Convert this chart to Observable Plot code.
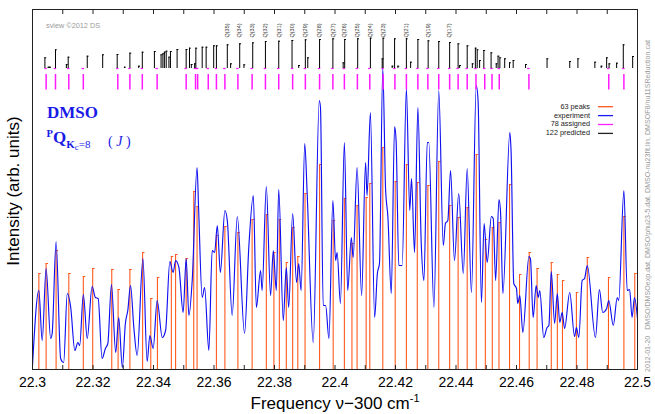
<!DOCTYPE html>
<html><head><meta charset="utf-8">
<script src="https://cdn.jsdelivr.net/npm/d3@7"></script>
<script src="https://cdn.jsdelivr.net/npm/@observablehq/plot@0.6"></script>
<style>body{margin:0;background:#fff}#chart{width:655px;height:414px}</style>
</head><body><div id="chart"></div>
<script>
// ---------- data ----------
const expFreq = [22.3000,22.3021,22.3032,22.3045,22.3060,22.3065,22.3078,22.3093,22.3103,22.3115,22.3126,22.3140,22.3150,22.3156,22.3168,22.3181,22.3197,22.3208,22.3217,22.3230,22.3241,22.3249,22.3261,22.3275,22.3285,22.3297,22.3307,22.3315,22.3324,22.3335,22.3346,22.3365,22.3379,22.3388,22.3399,22.3412,22.3429,22.3440,22.3454,22.3465,22.3473,22.3484,22.3498,22.3508,22.3517,22.3528,22.3544,22.3549,22.3561,22.3569,22.3583,22.3594,22.3602,22.3611,22.3621,22.3636,22.3644,22.3660,22.3677,22.3701,22.3715,22.3730,22.3740,22.3754,22.3759,22.3773,22.3787,22.3796,22.3806,22.3814,22.3829,22.3839,22.3847,22.3860,22.3873,22.3880,22.3888,22.3900,22.3908,22.3928,22.3948,22.3952,22.3961,22.3969,22.3980,22.3993,22.4002,22.4007,22.4018,22.4031,22.4042,22.4054,22.4060,22.4073,22.4088,22.4101,22.4106,22.4117,22.4131,22.4140,22.4147,22.4158,22.4167,22.4175,22.4186,22.4197,22.4202,22.4211,22.4222,22.4236,22.4247,22.4253,22.4263,22.4274,22.4285,22.4294,22.4305,22.4310,22.4327,22.4343,22.4358,22.4365,22.4373,22.4382,22.4395,22.4409,22.4424,22.4437,22.4451,22.4467,22.4473,22.4484,22.4493,22.4503,22.4517,22.4523,22.4531,22.4542,22.4547,22.4555,22.4578,22.4582,22.4591,22.4600,22.4604,22.4611,22.4621,22.4641,22.4646,22.4655,22.4665,22.4672,22.4677,22.4690,22.4701,22.4707,22.4715,22.4726,22.4735,22.4743,22.4751,22.4759,22.4776,22.4792,22.4798,22.4806,22.4817,22.4825,22.4834,22.4861,22.4874,22.4885,22.4898,22.4905,22.4920,22.4933,22.4938,22.4955,22.4966,22.4974,22.4982,22.4990,22.5000];
const expInt = [4,79,29,101,31,36,128,11,7,76,63,19,27,24,75,31,83,72,71,11,21,26,85,17,52,2,46,59,84,42,14,111,8,34,21,69,32,39,108,97,109,102,57,111,54,89,202,162,72,82,19,119,117,144,97,159,149,54,153,36,122,174,62,99,79,183,74,119,79,180,49,102,62,156,87,106,79,226,176,27,269,262,64,64,31,169,109,117,66,227,79,132,112,202,74,207,174,257,52,96,106,301,182,152,76,243,229,104,104,281,159,191,117,262,127,89,227,227,62,279,124,146,149,199,109,176,96,201,77,284,269,67,146,107,153,151,89,170,159,76,237,219,86,81,66,74,37,113,111,52,84,72,79,32,42,44,98,46,76,47,57,41,77,33,42,32,89,91,104,32,80,57,61,69,44,72,69,179,79,80,52,72,51];

const peakFreq = [22.3021,22.3045,22.3078,22.3120,22.3168,22.3199,22.3262,22.3283,22.3322,22.3364,22.3391,22.3413,22.3459,22.3473,22.3508,22.3533,22.3544,22.3608,22.3636,22.3679,22.3726,22.3773,22.3798,22.3816,22.3839,22.3860,22.3877,22.3901,22.3949,22.3994,22.4031,22.4056,22.4073,22.4103,22.4115,22.4158,22.4199,22.4236,22.4272,22.4307,22.4343,22.4379,22.4407,22.4437,22.4467,22.4497,22.4520,22.4542,22.4577,22.4610,22.4642,22.4668,22.4715,22.4735,22.4752,22.4798,22.4834,22.4904,22.4955,22.4991];
const peakInt = [96,106,119,96,93,101,100,80,100,117,71,92,113,115,111,178,163,134,143,137,150,155,117,150,107,142,113,176,205,149,171,126,164,172,186,222,188,205,187,184,208,164,152,162,215,130,142,147,185,95,117,101,107,95,89,77,112,92,153,96];

const predFreq = [22.3041,22.3052,22.3057,22.3076,22.3112,22.3118,22.3181,22.3232,22.3280,22.3304,22.3322,22.3351,22.3363,22.3403,22.3425,22.3431,22.3436,22.3442,22.3451,22.3456,22.3478,22.3508,22.3519,22.3525,22.3536,22.3540,22.3561,22.3574,22.3599,22.3608,22.3644,22.3655,22.3685,22.3699,22.3728,22.3770,22.3814,22.3858,22.3880,22.3902,22.3910,22.3949,22.3993,22.4027,22.4032,22.4075,22.4117,22.4156,22.4159,22.4189,22.4197,22.4208,22.4236,22.4250,22.4274,22.4308,22.4343,22.4379,22.4407,22.4412,22.4437,22.4454,22.4464,22.4470,22.4478,22.4492,22.4516,22.4533,22.4539,22.4545,22.4561,22.4577,22.4589,22.4630,22.4701,22.4776,22.4803,22.4859,22.4880,22.4898,22.4906,22.4931,22.4953,22.4984];
const predInt = [10.7,1.3,1.3,18.7,4,11.3,12.3,13.7,14,1.3,15.3,2.3,16.3,17,13.7,14.7,16.3,17.3,11.3,17,19,19,20.3,4,4.7,20.3,21.3,21.3,22.7,22.7,23.7,4.7,24.7,3.7,25.7,27,27.3,28,3,28.7,10.7,29,29.7,5.7,29,29.7,30.3,9.7,30.3,2.3,29.7,2.3,29.7,6.3,29,27.7,27,26,24.7,3,22.7,4.7,20.3,18.7,8,18,15.7,4.7,12.3,10.7,9.7,5.7,8,4,9.7,7,9.7,6.3,2.3,10.7,4.7,5.3,23.7,12];

const assignedFreq = [22.3045,22.3076,22.3120,22.3168,22.3282,22.3322,22.3363,22.3412,22.3508,22.3539,22.3546,22.3581,22.3608,22.3636,22.3679,22.3726,22.3770,22.3814,22.3860,22.3902,22.3949,22.3993,22.4031,22.4074,22.4115,22.4159,22.4198,22.4236,22.4274,22.4307,22.4343,22.4379,22.4407,22.4437,22.4466,22.4495,22.4519,22.4543,22.4641,22.4905,22.4955];

const qLabels = ["Q(35)","Q(34)","Q(33)","Q(32)","Q(31)","Q(30)","Q(29)","Q(28)","Q(27)","Q(26)","Q(25)","Q(24)","Q(23)","Q(21)","Q(19)","Q(17)"];
const qFreq = [22.3644,22.3685,22.3728,22.3770,22.3814,22.3858,22.3902,22.3949,22.3993,22.4032,22.4075,22.4117,22.4159,22.4236,22.4308,22.4379];

const majorTicks = [22.3,22.32,22.34,22.36,22.38,22.4,22.42,22.44,22.46,22.48,22.5];
const minorTicks = [22.3,22.31,22.32,22.33,22.34,22.35,22.36,22.37,22.38,22.39,22.4,22.41,22.42,22.43,22.44,22.45,22.46,22.47,22.48,22.49,22.5];

const legendItems = ["63 peaks","experiment","78 assigned","122 predicted"];
const legendColors = ["#ff5a1e","#1a1af0","#ff22ff","#222222"];

// ---------- build ----------
const ORANGE = "#ff5a1e", BLUE = "#1010f0", MAGENTA = "#ff1aff", BLUE_T = "#1a1ae6";
const exp = expFreq.map((f, i) => ({f, v: expInt[i]}));
const peaks = peakFreq.map((f, i) => ({f, v: peakInt[i]}));
const pred = predFreq.map((f, i) => ({f, h: predInt[i]}));
const qlab = qFreq.map((f, i) => ({f, label: qLabels[i]}));
const PRED_BASE = 301, ASG_LO = 279.5, ASG_HI = 295;

const plot = Plot.plot({
  width: 655, height: 414,
  marginLeft: 32, marginRight: 18, marginTop: 9, marginBottom: 45,
  x: {domain: [22.3, 22.5]},
  y: {domain: [0, 360], axis: null},
  style: {fontFamily: "'Liberation Sans', Arial, sans-serif", fontSize: "14px", background: "#fff", color: "#000"},
  marks: [
    Plot.ruleX(peaks, {x: "f", y1: 0, y2: "v", stroke: ORANGE, strokeWidth: 1.1}),
    Plot.ruleY(peaks, {y: "v", x1: "f", x2: d => d.f + 0.0008, stroke: ORANGE, strokeWidth: 1}),
    Plot.line(exp, {x: "f", y: "v", stroke: BLUE, strokeWidth: 1.15, curve: "monotone-x", clip: true}),
    Plot.ruleX(assignedFreq, {x: d => d, y1: ASG_LO, y2: ASG_HI, stroke: MAGENTA, strokeWidth: 1.5}),
    Plot.ruleY(assignedFreq, {y: PRED_BASE, x1: d => d - 0.0004, x2: d => d + 0.0004, stroke: MAGENTA, strokeWidth: 1.3}),
    Plot.ruleX(pred, {x: "f", y1: PRED_BASE, y2: d => PRED_BASE + d.h, stroke: "#000", strokeWidth: 1}),
    Plot.ruleY(pred, {y: d => PRED_BASE + d.h, x1: "f", x2: d => d.f + 0.0006, stroke: "#000", strokeWidth: 1}),
    Plot.text(qlab, {x: "f", y: 332, text: "label", rotate: -90, textAnchor: "start", fontSize: 5.5, fill: "#333"}),
    Plot.ruleX(minorTicks, {x: d => d, y1: 0, y2: 4, stroke: "#222"}),
    Plot.ruleX(minorTicks, {x: d => d, y1: 355, y2: 360, stroke: "#222"}),
    Plot.frame({stroke: "#222"}),
    Plot.axisX(majorTicks, {tickSize: 0, tickPadding: 8, tickFormat: d3.format(".2~f"), label: null, fontSize: 14})
  ]
});
document.getElementById("chart").appendChild(plot);

// ---------- annotations ----------
const svg = d3.select(plot);
const sans = "'Liberation Sans', Arial, sans-serif", serif = "'Liberation Serif', 'Times New Roman', serif";

svg.append("text").attr("transform", "translate(15,191) rotate(-90)")
  .attr("text-anchor", "middle").attr("dominant-baseline", "middle")
  .style("font-family", sans).style("font-size", "17px").attr("fill", "#000")
  .text("Intensity (arb. units)");

const xl = svg.append("text").attr("x", 335).attr("y", 409).attr("text-anchor", "middle")
  .style("font-family", sans).style("font-size", "17px").attr("fill", "#000");
xl.append("tspan").text("Frequency \u03BD\u2212300 cm");
xl.append("tspan").attr("dy", -7).style("font-size", "11px").text("-1");

svg.append("text").attr("x", 46).attr("y", 28).attr("text-anchor", "start").style("font-family", sans)
  .style("font-size", "7.3px").attr("fill", "#9a9a9a").text("sview \u00A92012 DS");

svg.append("text").attr("transform", "translate(648,372) rotate(-90)")
  .attr("text-anchor", "start").attr("dominant-baseline", "middle").style("font-family", sans)
  .style("font-size", "7.1px").attr("fill", "#9a9a9a")
  .text("2012-01-20   DMSO/DMSOexp.dat, DMSO/phu23-5.dat, DMSO-nu23fit.lin, DMSOF8/nu11SReduction.cat");

svg.append("text").attr("x", 47).attr("y", 118).attr("text-anchor", "start").style("font-family", serif)
  .style("font-size", "17px").style("font-weight", "bold").attr("fill", BLUE_T).text("DMSO");

const t2 = svg.append("text").attr("text-anchor", "start").style("font-family", serif).attr("fill", BLUE_T);
t2.append("tspan").attr("x", 46.5).attr("y", 136.5).style("font-size", "10.5px").style("font-weight", "bold").text("P");
t2.append("tspan").attr("y", 143).style("font-size", "17px").style("font-weight", "bold").text("Q");
t2.append("tspan").attr("y", 148).style("font-size", "11px").style("font-weight", "bold").text("K");
t2.append("tspan").attr("y", 149.5).style("font-size", "9px").text("c");
t2.append("tspan").attr("y", 148).style("font-size", "11px").text("=8");
t2.append("tspan").attr("x", 108).attr("y", 146).style("font-size", "14px").text("( ");
t2.append("tspan").style("font-size", "14px").style("font-style", "italic").text("J");
t2.append("tspan").style("font-size", "14px").text(" )");

const lg = svg.append("g");
legendItems.forEach((name, i) => {
  const y = 106.7 + i * 8.9;
  lg.append("text").attr("x", 590).attr("y", y).attr("text-anchor", "end")
    .attr("dominant-baseline", "middle").style("font-family", sans)
    .style("font-size", "7.3px").attr("fill", "#222").text(name);
  lg.append("line").attr("x1", 598).attr("x2", 613).attr("y1", y).attr("y2", y)
    .attr("stroke", legendColors[i]).attr("stroke-width", 1.3);
});
</script>
</body></html>
